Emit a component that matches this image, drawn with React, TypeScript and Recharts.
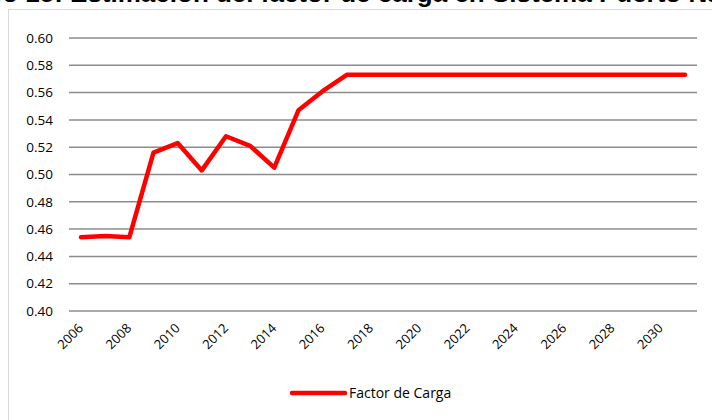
import React from "react";
import { LineChart, Line, XAxis, YAxis, CartesianGrid } from "recharts";

const years = [
  "2006", "2007", "2008", "2009", "2010", "2011", "2012", "2013", "2014",
  "2015", "2016", "2017", "2018", "2019", "2020", "2021", "2022", "2023",
  "2024", "2025", "2026", "2027", "2028", "2029", "2030", "2031",
];
const factorDeCarga = [
  0.454, 0.455, 0.454, 0.516, 0.523, 0.503, 0.528, 0.521, 0.505,
  0.547, 0.561, 0.573, 0.573, 0.573, 0.573, 0.573, 0.573, 0.573,
  0.573, 0.573, 0.573, 0.573, 0.573, 0.573, 0.573, 0.573,
];
const yTicks = [0.4, 0.42, 0.44, 0.46, 0.48, 0.5, 0.52, 0.54, 0.56, 0.58, 0.6];
const seriesName = "Factor de Carga";
const titleText = "Gráfico 15: Estimación del factor de carga en Sistema Puerto Natales";

const data = years.map((y, i) => ({ year: y, value: factorDeCarga[i] }));

const FONT = "'Open Sans', 'Liberation Sans', sans-serif";

const XTick = (props: any) => {
  const { x, y, payload } = props;
  return (
    <g transform={`translate(${x + 3},${y + 16})`}>
      <text
        x={0}
        y={0}
        textAnchor="end"
        transform="rotate(-45)"
        fill="#000"
        fontSize={13}
        fontFamily={FONT}
      >
        {payload.value}
      </text>
    </g>
  );
};

export default function App() {
  return (
    <div style={{ position: "absolute", left: 0, top: 0, width: 712, height: 420, overflow: "hidden", background: "#fff" }}>
      <div
        style={{
          position: "absolute",
          left: 8,
          top: 9,
          width: 740,
          height: 440,
          border: "1px solid #d9d9d9",
          boxSizing: "border-box",
        }}
      />
      <div
        style={{
          position: "absolute",
          left: -73,
          top: -20,
          whiteSpace: "nowrap",
          fontFamily: "'Liberation Sans', Arial, sans-serif",
          fontWeight: "bold",
          fontSize: 26,
          lineHeight: "26px",
          color: "#000",
        }}
      >
        {titleText}
      </div>
      <div style={{ position: "absolute", left: 0, top: 0 }}>
        <LineChart width={712} height={420} data={data} margin={{ top: 38, right: 15, bottom: 0, left: 0 }}>
          <CartesianGrid vertical={false} stroke="#8c8c8c" strokeWidth={1.5} />
          <XAxis
            dataKey="year"
            interval={1}
            tick={<XTick />}
            tickLine={false}
            axisLine={false}
            tickSize={0}
            height={109}
            padding={{ left: 12, right: 12 }}
          />
          <YAxis
            domain={[0.4, 0.6]}
            ticks={yTicks}
            tickFormatter={(v: number) => v.toFixed(2)}
            tickLine={false}
            axisLine={false}
            tickSize={0}
            tickMargin={16}
            width={69}
            tick={{ fill: "#000", fontSize: 13.5, fontFamily: FONT }}
          />
          <Line
            dataKey="value"
            name={seriesName}
            stroke="#ff0000"
            strokeWidth={4.5}
            strokeLinecap="round"
            strokeLinejoin="round"
            dot={false}
            isAnimationActive={false}
          />
        </LineChart>
      </div>
      <div
        style={{
          position: "absolute",
          left: 289,
          top: 383,
          display: "flex",
          alignItems: "center",
          fontFamily: FONT,
          fontSize: 14,
          lineHeight: "20px",
          color: "#000",
          whiteSpace: "nowrap",
        }}
      >
        <svg width={58} height={10} style={{ display: "block" }}>
          <line x1={3} y1={5} x2={56} y2={5} stroke="#ff0000" strokeWidth={4.5} strokeLinecap="round" />
        </svg>
        <span style={{ marginLeft: 2 }}>{seriesName}</span>
      </div>
    </div>
  );
}
